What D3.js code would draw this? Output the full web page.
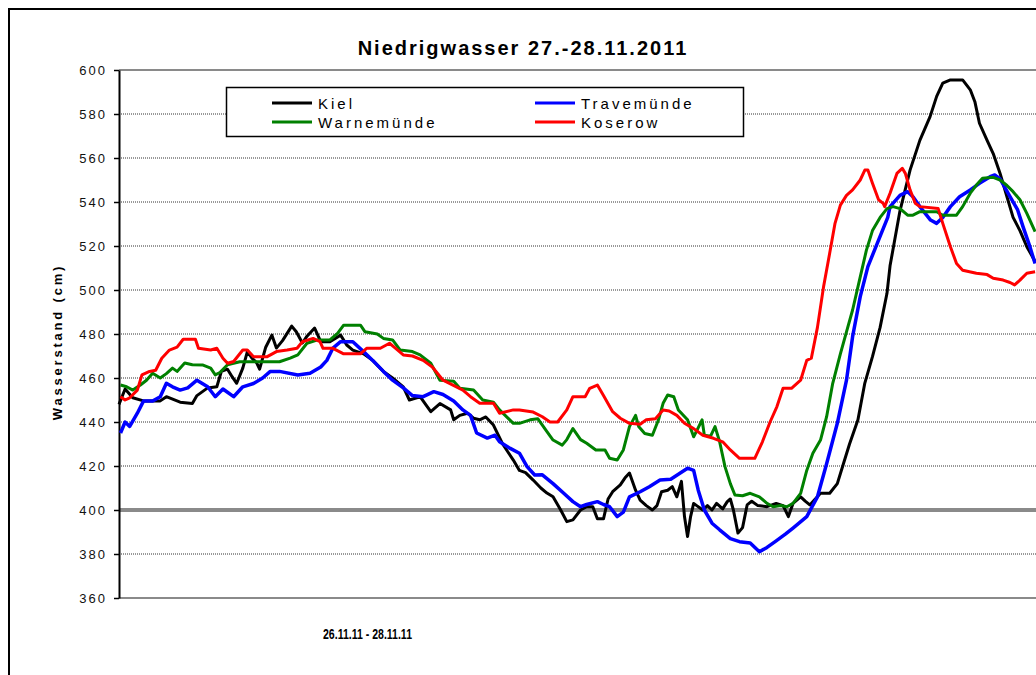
<!DOCTYPE html>
<html>
<head>
<meta charset="utf-8">
<script src="https://cdn.jsdelivr.net/npm/d3@7"></script>
<style>
  body { margin: 0; background: #fff; }
  svg { display: block; font-family: "Liberation Sans", Arial, sans-serif; }
</style>
</head>
<body>
<svg width="1036" height="675"></svg>
<script>
// water level in cm, time in hours since the start of the plot
const seriesNames = ['Kiel', 'Travemünde', 'Warnemünde', 'Koserow'];
const seriesColors = ['#000000', '#0000ff', '#008000', '#ff0000'];
const yTicks = [360, 380, 400, 420, 440, 460, 480, 500, 520, 540, 560, 580, 600];

const kiel = [
  [0,448],[0.4,455],[0.9,451],[1.6,449.6],[2.7,449.6],[3.1,451.5],[4,449],[4.8,448.4],[5.1,452],[5.8,455.5],
  [6.4,456],[6.7,463],[7.1,464],[7.4,460.6],[7.7,457.6],[8.1,464.5],[8.4,472],[8.7,469],[9,467],[9.2,464],
  [9.6,474],[10,479.5],[10.3,473.6],[10.7,477],[11.3,483.6],[11.6,481],[12,475.9],[12.3,479],[12.8,482.7],[13.2,476.5],
  [13.8,476.5],[14.5,479.5],[14.9,475],[15.3,472.7],[16,471],[16.6,468],[17.3,463],[17.9,460],[18.6,456],[19,450],
  [19.7,451.5],[20.4,444.7],[21,448.4],[21.7,445.5],[21.9,441],[22.3,443],[22.8,444],[23.2,441.7],[23.6,441],[24,442.3],
  [24.5,438.6],[25.1,430],[25.8,422.7],[26.2,418],[26.6,417],[27.1,413.6],[27.6,410],[28,407.7],[28.4,406],[28.9,400],
  [29.3,394.7],[29.7,395.5],[30.2,400],[30.6,401.5],[31,401.5],[31.3,396],[31.7,396],[32,405],[32.3,408.3],[32.8,411.4],
  [33.1,414.5],[33.4,416.8],[33.8,409],[34.1,404.5],[34.5,402],[34.9,400],[35.2,402],[35.5,408.3],[35.9,409],[36.2,410.6],
  [36.5,406],[36.8,413],[37,397],[37.2,388],[37.4,397],[37.6,403],[37.8,402],[38.2,400],[38.5,402],[38.8,400],
  [39.1,403],[39.5,400.5],[39.8,403.8],[40,405],[40.2,400],[40.5,389.5],[40.8,392],[41.1,402.3],[41.4,404],[41.8,402],
  [42.4,401.5],[43,403],[43.45,402],[43.8,397],[44.1,403],[44.6,406],[44.9,404],[45.2,402.3],[45.9,407.6],[46.5,407.6],
  [47,412],[47.4,421],[47.8,430],[48.35,441],[48.8,457.7],[49.3,469.7],[49.8,483],[50.25,498.5],[50.45,511],[51.1,536],
  [51.76,554.5],[52.4,568],[53.07,578.8],[53.5,588],[53.9,594],[54.4,595.5],[55.2,595.5],[55.7,591],[56,585.6],[56.3,575.8],
  [56.8,568],[57.2,562],[57.65,553],[58.1,542.4],[58.5,533],[58.95,527],[59.4,519.7],[59.94,513]
];

const travemuende = [
  [0.1,435],[0.4,440],[0.7,438],[1.2,444],[1.6,449.5],[2.2,449.5],[2.7,451.5],[3.1,457.6],[3.5,456],[4,454.5],
  [4.5,455.5],[5.1,459],[5.8,456],[6.3,451.5],[6.8,455],[7.5,451.5],[8.1,456],[8.8,457.5],[9.4,460],[9.9,463],
  [10.5,463],[11.7,461.4],[12.5,462.2],[13.2,465],[13.6,468],[14,473.6],[14.5,476.5],[15.3,476.5],[16,472],[16.6,468],
  [17.3,463],[17.9,459],[18.6,455.5],[19.2,452],[19.9,451.5],[20.6,453.8],[21.2,452.5],[21.9,449.5],[22.5,445.5],[23,443],
  [23.4,435],[24.1,432.7],[24.6,434],[24.9,431],[25.6,428],[26.2,425.8],[26.7,419.7],[27.2,415.9],[27.7,416],[28.4,412],
  [29.1,407.6],[29.7,403.8],[30.2,401.5],[30.6,402.5],[31.3,403.8],[31.7,402.5],[32.1,401.5],[32.6,397],[33,399],[33.4,406],
  [34.1,408.3],[34.7,410.6],[35.4,413.6],[36.1,414],[36.7,416.7],[37.2,419],[37.6,418],[37.9,409],[38.3,400],[38.8,394],
  [39.3,391],[40,387],[40.6,385.6],[41.3,385],[41.9,381],[42.4,383],[43,386],[43.6,389],[44.1,391.8],[45,397],
  [45.7,406],[46.3,421],[47,439.4],[47.6,459],[48,478.8],[48.5,497],[49,510.6],[49.6,521],[50.3,533],[50.45,537.9],
  [51.1,543],[51.6,544.7],[51.95,542.4],[52.4,537.9],[53.1,531.8],[53.5,530.3],[53.9,533],[54.4,537.9],[55,542.4],[55.7,545.5],
  [56.3,548.5],[57,551.5],[57.3,552.3],[57.65,550.5],[58.3,542.4],[58.8,536.4],[59.15,528.8],[59.6,519.7],[59.94,512]
];

const warnemuende = [
  [0.1,456.8],[0.5,456],[0.9,454.5],[1.4,456.8],[1.8,459],[2.2,462.2],[2.7,460],[3.1,462],[3.5,464.5],[3.8,463],
  [4.3,466.8],[4.8,466],[5.5,465.9],[6,464.5],[6.3,461.4],[6.6,462.5],[7.1,466],[7.9,467.4],[9.2,467.4],[10.5,467.4],
  [11.2,469],[11.7,470.5],[12.3,475.8],[13,477.3],[13.8,477.3],[14.3,480.3],[14.7,484],[15.8,484],[16.1,481],[16.9,480],
  [17.3,478],[17.9,477.3],[18.4,472.7],[19.2,472],[19.7,470.5],[20.4,466.7],[21,459],[21.9,458.5],[22.3,455.3],[23.2,454.5],
  [23.8,450],[24.5,449],[24.9,445.5],[25.8,439.4],[26.2,439.4],[26.9,441],[27.4,441.5],[28,435.6],[28.4,431.8],[29,429.5],
  [29.3,432],[29.7,437],[30.2,432],[30.6,430.3],[31.2,427.3],[31.8,427.3],[32.1,423.5],[32.6,422.7],[33,427.3],[33.4,437.9],
  [33.8,443],[34,438],[34.4,434.8],[34.9,434],[35.3,441],[35.6,448.5],[35.9,452.3],[36.3,451.5],[36.6,445.5],[37.2,441],
  [37.6,433.3],[37.8,436],[38.15,441],[38.3,434],[38.7,433.5],[39,437.9],[39.3,431],[39.65,419.7],[40,412],[40.3,406.8],
  [40.8,406.5],[41.3,407.6],[41.9,406],[42.4,403],[42.8,401.5],[43.3,402],[43.7,401.5],[44.1,403],[44.6,407.6],[45,418],
  [45.4,425.8],[45.9,431.8],[46.3,442.4],[46.7,457.6],[47.2,471],[47.6,481],[48,490.9],[48.5,506],[48.9,518],[49.3,527],
  [49.8,533],[50.25,537],[50.65,537.9],[51.1,537],[51.6,534],[51.95,534],[52.4,535.6],[53.5,535.6],[53.9,534],[54.8,534],
  [55.2,537.9],[55.7,544],[56.1,547.7],[56.5,550.8],[57.2,551.2],[57.65,550],[58.1,547.5],[58.5,544.7],[58.95,541],[59.4,534.8],
  [59.94,526.5]
];

const koserow = [
  [0.1,451.5],[0.4,450],[0.7,451],[1.2,454.5],[1.5,461.4],[2,463],[2.4,463.5],[2.8,469],[3.3,472.7],[3.8,474],
  [4.2,477.6],[5,477.6],[5.2,473.5],[6,472.7],[6.4,473.5],[6.8,469],[7.1,466.7],[7.5,467.5],[8.1,472.7],[8.4,472.7],
  [8.8,469.7],[9.7,469.7],[10.3,472],[11,472.7],[11.65,473.5],[12,476.5],[12.7,478],[13.15,476.5],[13.35,473.5],[14,473.5],
  [14.7,471],[15.8,471],[16.2,473.5],[17.1,473.5],[17.7,475.8],[18.1,473.5],[18.6,470.5],[19.2,470],[19.9,468],[20.5,465],
  [21.2,459],[21.85,456.8],[22.5,454.5],[23,451.5],[23.6,448.5],[24.5,448.5],[24.9,444],[25.8,445.5],[26.2,445.5],[27.1,444.5],
  [27.7,442.4],[28.2,440],[28.7,440],[29.3,445.5],[29.7,451.5],[30.5,451.5],[30.8,455.3],[31.3,456.8],[31.7,452],[32.3,444.7],
  [32.8,441.7],[33.4,439.4],[34.1,439],[34.5,441],[35.1,441.5],[35.6,445.5],[36,445],[36.5,443],[37,439.4],[37.6,437],
  [38.2,434],[38.9,432.6],[39.5,431],[40,427.3],[40.6,423.5],[41.6,423.5],[42.1,431],[42.6,440],[43.05,447],[43.45,455.3],
  [44,455.3],[44.6,459],[45,468],[45.3,469],[45.7,483],[46.1,501.5],[46.5,516.7],[46.85,530.3],[47.2,538.6],[47.6,543],
  [48,545.5],[48.5,550],[48.8,554.5],[49,554.5],[49.3,548.5],[49.7,541],[50,539.4],[50.1,537.9],[50.45,544],[50.9,553],
  [51.25,555.3],[51.45,553],[51.76,545.5],[52.1,539.4],[52.4,537.9],[53.6,537],[53.9,530.3],[54.4,519.7],[54.8,512],[55.2,509],
  [56.1,507.6],[56.8,507],[57.2,505.3],[57.85,504.5],[58.3,503.4],[58.6,502.3],[58.95,504.5],[59.4,507.6],[59.94,508.3]
];

const allSeries = [kiel, travemuende, warnemuende, koserow];

var plot = {left: 119, top: 70, right: 1040, bottom: 598};

var svg = d3.select('svg');

var x = d3.scaleLinear()
  .domain([0, 60])
  .range([plot.left, 1036]);
var y = d3.scaleLinear()
  .domain([360, 600])
  .range([plot.bottom, plot.top]);

// outer frame (right and bottom edges lie outside the picture)
svg.append('path')
  .attr('d', 'M9,700 V9 H1100')
  .attr('fill', 'none')
  .attr('stroke', '#000')
  .attr('stroke-width', 2);

// horizontal grid; 400 cm is the marked reference level
var isHeavy = d => d === 400 || d === 600 || d === 360;
svg.append('g')
  .selectAll('line')
  .data(yTicks)
  .enter()
  .append('line')
  .attr('x1', plot.left)
  .attr('x2', plot.right)
  .attr('y1', d => y(d))
  .attr('y2', d => y(d))
  .attr('stroke', d => isHeavy(d) ? '#8a8a8a' : '#333')
  .attr('stroke-width', d => d === 400 ? 4 : isHeavy(d) ? 2 : 1)
  .attr('stroke-dasharray', d => isHeavy(d) ? null : '1,1');

// y axis
var yAxis = d3.axisLeft(y)
  .tickValues(yTicks)
  .tickSize(5)
  .tickSizeOuter(0)
  .tickPadding(9);
var gy = svg.append('g')
  .attr('transform', 'translate(' + plot.left + ',0)')
  .call(yAxis);
gy.select('.domain').attr('stroke', '#000').attr('stroke-width', 2);
gy.selectAll('.tick line').attr('stroke', '#000').attr('stroke-width', 1.5);
gy.selectAll('.tick text')
  .attr('font-size', 13)
  .attr('font-family', '"Liberation Sans", Arial, sans-serif')
  .attr('letter-spacing', '2px')
  .attr('dx', '2px')
  .attr('fill', '#111');

// series lines
var line = d3.line()
  .x(d => x(d[0]))
  .y(d => y(d[1]));

svg.append('g')
  .selectAll('path')
  .data(allSeries)
  .enter()
  .append('path')
  .attr('d', line)
  .attr('fill', 'none')
  .attr('stroke', (d, i) => seriesColors[i])
  .attr('stroke-width', (d, i) => i === 1 ? 3.5 : 3)
  .attr('stroke-linejoin', 'round');

// titles
svg.append('text')
  .attr('x', 523)
  .attr('y', 55)
  .attr('text-anchor', 'middle')
  .attr('font-size', 20)
  .attr('font-weight', 'bold')
  .attr('letter-spacing', '2px')
  .text('Niedrigwasser 27.-28.11.2011');

svg.append('text')
  .attr('transform', 'translate(62,342) rotate(-90)')
  .attr('text-anchor', 'middle')
  .attr('font-size', 13)
  .attr('font-weight', 'bold')
  .attr('letter-spacing', '2.8px')
  .text('Wasserstand (cm)');

svg.append('text')
  .attr('x', 323)
  .attr('y', 639)
  .attr('font-size', 14)
  .attr('font-weight', 'bold')
  .attr('textLength', 89)
  .attr('lengthAdjust', 'spacingAndGlyphs')
  .text('26.11.11 - 28.11.11');

// legend
var legend = svg.append('g');
legend.append('rect')
  .attr('x', 226.5)
  .attr('y', 87.5)
  .attr('width', 517)
  .attr('height', 49)
  .attr('fill', '#fff')
  .attr('stroke', '#000')
  .attr('stroke-width', 1.5);

var legendPos = [[272, 103], [535, 103], [272, 122], [535, 122]];
var items = legend.selectAll('g.item')
  .data(seriesNames)
  .enter()
  .append('g')
  .attr('class', 'item')
  .attr('transform', (d, i) => 'translate(' + legendPos[i][0] + ',' + legendPos[i][1] + ')');
items.append('line')
  .attr('x1', 0)
  .attr('x2', 40)
  .attr('stroke', (d, i) => seriesColors[i])
  .attr('stroke-width', 3);
items.append('text')
  .attr('x', 46)
  .attr('y', 6)
  .attr('font-size', 15)
  .attr('letter-spacing', '3px')
  .text(d => d);
</script>
</body>
</html>
